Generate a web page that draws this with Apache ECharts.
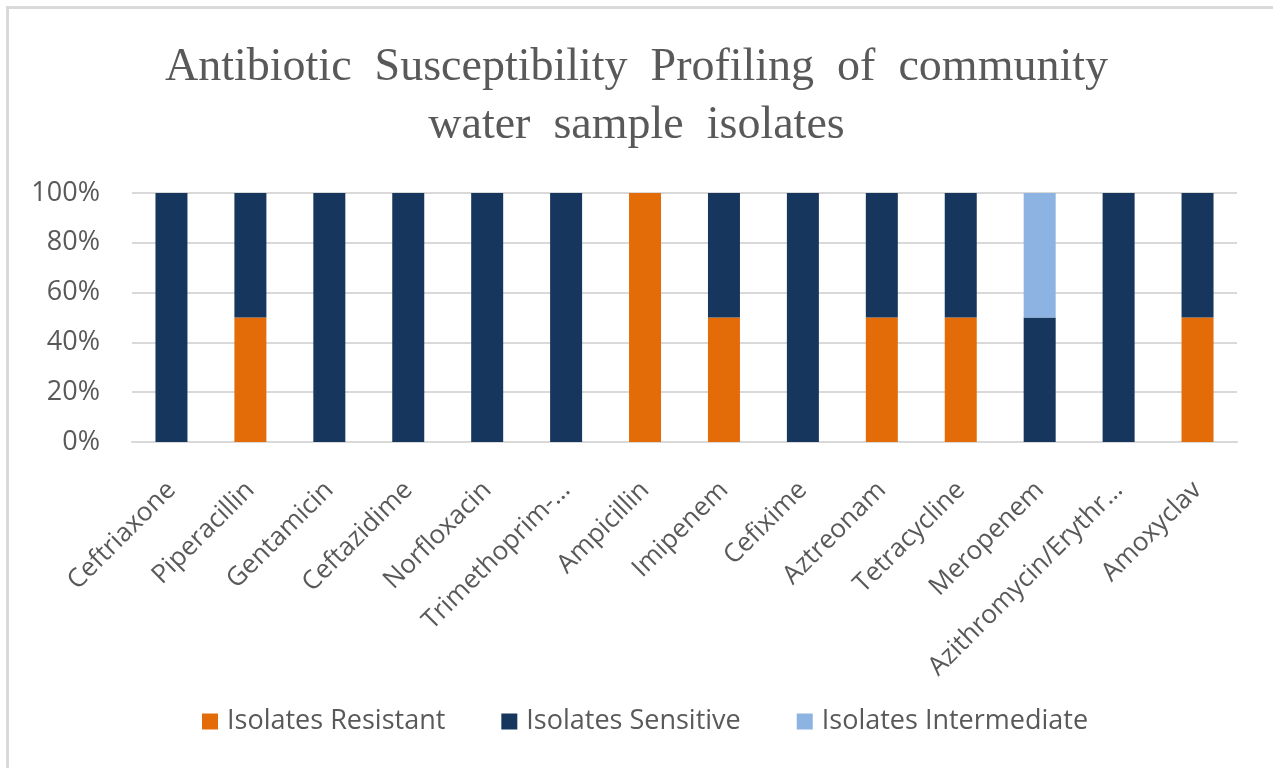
<!DOCTYPE html>
<html>
<head>
<meta charset="utf-8">
<script src="https://cdn.jsdelivr.net/npm/echarts@6/dist/echarts.min.js"></script>
<style>
  html, body { margin: 0; padding: 0; background: #fff; }
  #chart { width: 1273px; height: 768px; }
</style>
</head>
<body>
<div id="chart"></div>
<script>
// antibiotics on the x axis (labels as printed, truncated ones included)
const antibiotics = [
  'Ceftriaxone', 'Piperacillin', 'Gentamicin', 'Ceftazidime', 'Norfloxacin',
  'Trimethoprim-…', 'Ampicillin', 'Imipenem', 'Cefixime', 'Aztreonam',
  'Tetracycline', 'Meropenem', 'Azithromycin/Erythr…', 'Amoxyclav'
]
// percentages of isolates
const resistant    = [0, 50, 0, 0, 0, 0, 100, 50, 0, 50, 50, 0, 0, 50]
const sensitive    = [100, 50, 100, 100, 100, 100, 0, 50, 100, 50, 50, 50, 100, 50]
const intermediate = [0, 0, 0, 0, 0, 0, 0, 0, 0, 0, 0, 50, 0, 0]

const yTicks = [0, 20, 40, 60, 80, 100]

const textColor = '#595959'
const font = 'Open Sans'

const myChart = echarts.init(document.getElementById('chart'))

function stackSeries(name, data, color) {
  return {
    name: name,
    type: 'bar',
    stack: 'total',
    barWidth: 32,
    itemStyle: { color: color },
    data: data
  }
}

const option = {
  backgroundColor: '#fff',
  animation: false,
  title: {
    left: 'center',
    top: 34,
    text: 'Antibiotic  Susceptibility  Profiling  of  community\nwater  sample  isolates',
    textStyle: {
      fontFamily: 'Liberation Serif',
      fontWeight: 'normal',
      fontSize: 46,
      lineHeight: 58,
      color: textColor
    }
  },
  legend: {
    top: 703,
    left: 197,
    itemWidth: 16,
    itemHeight: 16,
    itemGap: 56,
    icon: 'rect',
    textStyle: { fontFamily: font, fontSize: 27, color: textColor, padding: [0, 0, 0, 4] },
    data: ['Isolates Resistant', 'Isolates Sensitive', 'Isolates Intermediate']
  },
  grid: {
    left: 132,
    right: 36,
    top: 193,
    bottom: 326
  },
  xAxis: {
    type: 'category',
    data: antibiotics,
    axisLine: { lineStyle: { color: '#d9d9d9', width: 2 } },
    axisTick: { show: false },
    axisLabel: {
      interval: 0,
      rotate: 45,
      margin: 44,
      fontFamily: font,
      fontSize: 26,
      color: textColor
    }
  },
  yAxis: {
    type: 'value',
    min: yTicks[0],
    max: yTicks[yTicks.length - 1],
    interval: yTicks[1] - yTicks[0],
    axisLine: { show: false },
    axisTick: { show: false },
    splitLine: { lineStyle: { color: '#d9d9d9', width: 2 } },
    axisLabel: {
      formatter: '{value}%',
      margin: 32,
      fontFamily: font,
      fontSize: 27,
      color: textColor
    }
  },
  graphic: [
    { type: 'line', shape: { x1: 7.5, y1: 6, x2: 7.5, y2: 768 }, style: { stroke: '#d9d9d9', lineWidth: 3 } },
    { type: 'line', shape: { x1: 6, y1: 7.5, x2: 1273, y2: 7.5 }, style: { stroke: '#d9d9d9', lineWidth: 3 } }
  ],
  series: [
    stackSeries('Isolates Resistant', resistant, '#e36c09'),
    stackSeries('Isolates Sensitive', sensitive, '#17365d'),
    stackSeries('Isolates Intermediate', intermediate, '#8db3e2')
  ]
}

myChart.setOption(option)
</script>
</body>
</html>
